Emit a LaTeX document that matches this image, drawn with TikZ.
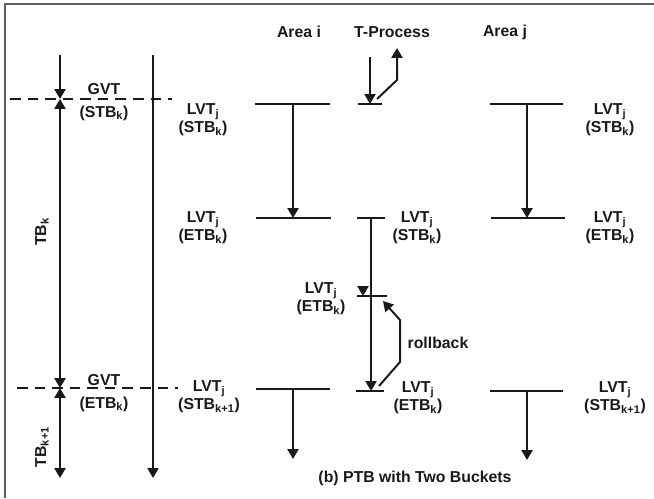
\documentclass[tikz,border=0pt]{standalone}
\usepackage{fontspec}
\setmainfont{Liberation Sans}
\usepackage{tikz}
\usetikzlibrary{arrows.meta,positioning,calc}
\definecolor{inkdark}{RGB}{25,25,25}
\definecolor{framegray}{RGB}{95,95,95}

\begin{document}
\begin{tikzpicture}[
  x=0.03cm, y=-0.03cm,
  txt/.style={font=\bfseries\fontsize{13.5}{15.5}\selectfont, align=center, text=inkdark, inner sep=0pt},
  gvtlbl/.style={txt, font=\bfseries\fontsize{13.5}{19.5}\selectfont},
  head/.style={txt},
  bar/.style={draw=inkdark, line width=1.7pt},
  arrow/.style={-{Triangle[length=8.5pt,width=9.5pt]}, draw=inkdark, line width=1.7pt},
  dblarrow/.style={{Triangle[length=8.5pt,width=9.5pt]}-{Triangle[length=8.5pt,width=9.5pt]}, draw=inkdark, line width=1.7pt},
  gvtline/.style={draw=inkdark, line width=1.7pt, dash pattern=on 9pt off 6pt}
]
  \useasboundingbox (0,0) rectangle (654,498);

  % Frame (only top and left edges show)
  \draw[framegray, line width=1.2pt] (5,498) -- (5,4) -- (654,4);

  % Column headings
  \node[head] (areai) at (299,32) {Area i};
  \node[head] (tproc) at (392,32) {T-Process};
  \node[head] (areaj) at (505,32) {Area j};

  % Left time axis with GVT marks
  \coordinate (axtop) at (60,55);
  \coordinate (gvt1) at (60,99);
  \coordinate (gvt2) at (60,388);
  \coordinate (axbot) at (60,478);
  \draw[arrow] (axtop) -- (gvt1);
  \draw[dblarrow] (gvt1) -- (gvt2);
  \draw[dblarrow] (gvt2) -- (axbot);
  \node[txt, rotate=90] (tbk) at (42,232) {TB\textsubscript{k}};
  \node[txt, rotate=90] (tbk1) at (42,447) {TB\textsubscript{k+1}};

  % Second (real) time axis
  \coordinate (rttop) at (153,55);
  \coordinate (rtbot) at (153,478);
  \draw[arrow] (rttop) -- (rtbot);

  % Dashed GVT lines
  \draw[gvtline] (10,99) -- (172,99);
  \draw[gvtline] (17,388) -- (178,388);
  \node[gvtlbl] (gvtstb) at (104,102) {GVT\\(STB\textsubscript{k})};
  \node[gvtlbl] (gvtetb) at (104,393) {GVT\\(ETB\textsubscript{k})};

  % Labels left of Area i
  \node[txt] (lvtai1) at (203,120) {LVT\textsubscript{j}\\(STB\textsubscript{k})};
  \node[txt] (lvtai2) at (203,228) {LVT\textsubscript{j}\\(ETB\textsubscript{k})};
  \node[txt] (lvtai3) at (209,397) {LVT\textsubscript{j}\\(STB\textsubscript{k+1})};

  % Area i
  \draw[bar] (255,104) -- (330,104);
  \draw[bar] (256,218) -- (331,218);
  \draw[bar] (256,389) -- (330,389);
  \coordinate (ai1) at (293,104);
  \coordinate (ai2) at (293,218);
  \coordinate (ai3) at (293,389);
  \coordinate (ai4) at (293,459);
  \draw[arrow] (ai1) -- (ai2);
  \draw[arrow] (ai3) -- (ai4);

  % T-Process: first event and its reply
  \coordinate (tin) at (370,57);
  \coordinate (tbar1) at (370,104);
  \draw[bar] (358,104) -- (382,104);
  \draw[arrow] (tin) -- (tbar1);
  \coordinate (tout) at (377,99);
  \coordinate (tout2) at (397,48);
  \draw[arrow] (tout) -- (397,80) -- (tout2);

  % T-Process: bucket progress and rollback
  \draw[bar] (357,218) -- (385,218);
  \draw[bar] (357,296) -- (387,296);
  \draw[bar] (356,391) -- (384,391);
  \coordinate (tstb) at (371,218);
  \coordinate (tetb) at (371,391);
  \draw[arrow] (tstb) -- (tetb);
  \coordinate (tmid) at (363,296);
  \draw[arrow] (363,286) -- (tmid);
  \coordinate (rbfrom) at (379,386);
  \coordinate (rbto) at (383,301);
  \draw[arrow] (rbfrom) -- (400,362) -- (400,320) -- (rbto);
  \node[txt] (rollback) at (438,343) {rollback};

  \node[txt] (lvtt1) at (417,228) {LVT\textsubscript{j}\\(STB\textsubscript{k})};
  \node[txt] (lvtt2) at (321,299) {LVT\textsubscript{j}\\(ETB\textsubscript{k})};
  \node[txt] (lvtt3) at (418,398) {LVT\textsubscript{j}\\(ETB\textsubscript{k})};

  % Area j
  \draw[bar] (490,104) -- (563,104);
  \draw[bar] (491,218) -- (565,218);
  \draw[bar] (490,391) -- (563,391);
  \coordinate (aj1) at (527,104);
  \coordinate (aj2) at (527,218);
  \coordinate (aj3) at (527,391);
  \coordinate (aj4) at (527,460);
  \draw[arrow] (aj1) -- (aj2);
  \draw[arrow] (aj3) -- (aj4);

  \node[txt] (lvtaj1) at (610,120) {LVT\textsubscript{j}\\(STB\textsubscript{k})};
  \node[txt] (lvtaj2) at (610,228) {LVT\textsubscript{j}\\(ETB\textsubscript{k})};
  \node[txt] (lvtaj3) at (615,398) {LVT\textsubscript{j}\\(STB\textsubscript{k+1})};

  % Caption
  \node[txt] (caption) at (415,478) {(b) PTB with Two Buckets};

\end{tikzpicture}
\end{document}
